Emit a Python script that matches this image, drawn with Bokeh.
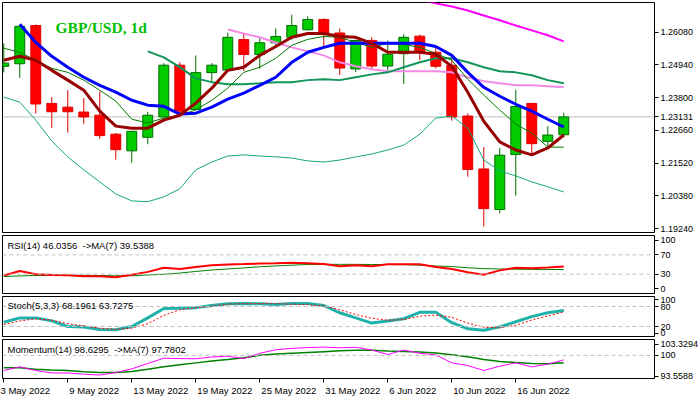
import datetime as dt
from bokeh.plotting import figure
from bokeh.models import Range1d, FixedTicker, Span, Label, PrintfTickFormatter
from bokeh.layouts import column
from bokeh.embed import file_html
from bokeh.resources import INLINE

nan = float("nan")

# ---------------- data ----------------
dates = ["2022-05-03", "2022-05-04", "2022-05-05", "2022-05-06", "2022-05-09", "2022-05-10",
         "2022-05-11", "2022-05-12", "2022-05-13", "2022-05-16", "2022-05-17", "2022-05-18",
         "2022-05-19", "2022-05-20", "2022-05-23", "2022-05-24", "2022-05-25", "2022-05-26",
         "2022-05-27", "2022-05-30", "2022-05-31", "2022-06-01", "2022-06-02", "2022-06-03",
         "2022-06-06", "2022-06-07", "2022-06-08", "2022-06-09", "2022-06-10", "2022-06-13",
         "2022-06-14", "2022-06-15", "2022-06-16", "2022-06-17", "2022-06-20", "2022-06-21"]

opens = [1.2489, 1.2498, 1.2631, 1.2360, 1.2347, 1.2330, 1.2319, 1.2253, 1.2195, 1.2242, 1.2313, 1.2493,
         1.2339, 1.2467, 1.2476, 1.2582, 1.2530, 1.2571, 1.2590, 1.2616, 1.2652, 1.2605, 1.2480, 1.2579,
         1.2490, 1.2533, 1.2594, 1.2538, 1.2493, 1.2316, 1.2132, 1.1991, 1.2182, 1.2360, 1.2228, 1.2251]
highs = [1.2569, 1.2631, 1.2635, 1.2382, 1.2406, 1.2379, 1.2402, 1.2257, 1.2264, 1.2331, 1.2500, 1.2503,
         1.2527, 1.2500, 1.2606, 1.2602, 1.2591, 1.2621, 1.2669, 1.2663, 1.2656, 1.2620, 1.2582, 1.2590,
         1.2579, 1.2601, 1.2600, 1.2556, 1.2516, 1.2325, 1.2208, 1.2205, 1.2408, 1.2362, 1.2281, 1.2327]
lows = [1.2468, 1.2449, 1.2325, 1.2275, 1.2258, 1.2289, 1.2237, 1.2164, 1.2154, 1.2218, 1.2310, 1.2325,
        1.2337, 1.2435, 1.2474, 1.2473, 1.2481, 1.2562, 1.2582, 1.2614, 1.2559, 1.2459, 1.2469, 1.2481,
        1.2475, 1.2428, 1.2510, 1.2481, 1.2300, 1.2105, 1.1932, 1.1978, 1.2039, 1.2177, 1.2207, 1.2242]
closes = [1.2500, 1.2628, 1.2358, 1.2331, 1.2331, 1.2313, 1.2248, 1.2199, 1.2263, 1.2319, 1.2493, 1.2333,
          1.2467, 1.2493, 1.2590, 1.2530, 1.2571, 1.2593, 1.2631, 1.2652, 1.2605, 1.2483, 1.2579, 1.2490,
          1.2531, 1.2590, 1.2537, 1.2489, 1.2313, 1.2130, 1.1994, 1.2180, 1.2349, 1.2220, 1.2250, 1.23131]

ma_blue = [nan, 1.2635, 1.2572, 1.2524, 1.2486, 1.2451, 1.2423, 1.2399, 1.2371, 1.2354, 1.2350, 1.2323,
           1.2326, 1.2347, 1.2375, 1.2396, 1.2423, 1.2451, 1.2503, 1.2538, 1.2555, 1.2569, 1.2569, 1.2569,
           1.2569, 1.2569, 1.2569, 1.2558, 1.2527, 1.2468, 1.2416, 1.2385, 1.2357, 1.2333, 1.2305, 1.2278]
ma_maroon = [1.2510, 1.2524, 1.2510, 1.2475, 1.2441, 1.2406, 1.2333, 1.2281, 1.2274, 1.2274, 1.2302, 1.2319,
             1.2361, 1.2413, 1.2475, 1.2486, 1.2527, 1.2558, 1.2590, 1.2603, 1.2603, 1.2593, 1.2590, 1.2569,
             1.2538, 1.2538, 1.2538, 1.2531, 1.2489, 1.2399, 1.2298, 1.2226, 1.2198, 1.2181, 1.2205, 1.2250]
ma_thin_green = [1.2552, 1.2538, 1.2510, 1.2482, 1.2468, 1.2441, 1.2406, 1.2368, 1.2305, 1.2292, 1.2309, 1.2319,
                 1.2337, 1.2371, 1.2413, 1.2468, 1.2486, 1.2517, 1.2562, 1.2583, 1.2593, 1.2590, 1.2572, 1.2555,
                 1.2569, 1.2565, 1.2555, 1.2534, 1.2510, 1.2444, 1.2389, 1.2337, 1.2288, 1.2257, 1.2208, 1.2208]
ma_sea_green = [nan] * 9 + [1.2541, 1.2520, 1.2486, 1.2447, 1.2434, 1.2427, 1.2427, 1.2430, 1.2434, 1.2434,
                            1.2441, 1.2444, 1.2441, 1.2451, 1.2461, 1.2468, 1.2486, 1.2503, 1.2517, 1.2517,
                            1.2503, 1.2486, 1.2472, 1.2468, 1.2458, 1.2441, 1.2430]
ma_pink = [nan] * 14 + [1.2617, 1.2603, 1.2590, 1.2572, 1.2555, 1.2541, 1.2527, 1.2503, 1.2489, 1.2479, 1.2472,
                        1.2472, 1.2472, 1.2472, 1.2468, 1.2451, 1.2437, 1.2430, 1.2423, 1.2423, 1.2420, 1.2416]
ma_magenta = [nan] * 25 + [1.2739, 1.2721, 1.2708, 1.2697, 1.2683, 1.2666, 1.2649, 1.2631, 1.2614, 1.2597, 1.2576]
band_teal = [1.2382, 1.2364, 1.2302, 1.2229, 1.2174, 1.2129, 1.2087, 1.2045, 1.2021, 1.2018, 1.2035, 1.2063,
             1.2129, 1.2156, 1.2177, 1.2181, 1.2177, 1.2174, 1.2170, 1.2160, 1.2156, 1.2163, 1.2174, 1.2184,
             1.2198, 1.2215, 1.2253, 1.2309, 1.2316, 1.2274, 1.2163, 1.2125, 1.2108, 1.2087, 1.2070, 1.2052]

rsi = [27.1, 36.4, 29.7, 28.0, 27.6, 25.4, 25.4, 23.7, 28.8, 34.7, 43.2, 40.7, 44.9, 48.6, 50.0, 50.8, 52.0, 52.5,
       53.7, 52.5, 50.8, 46.6, 48.3, 46.6, 50.3, 50.3, 50.3, 44.9, 40.7, 33.9, 28.8, 37.8, 43.2, 42.4, 44.0, 46.0356]
rsi_ma = [24.9, 26.3, 27.1, 27.6, 27.6, 27.6, 27.1, 26.6, 26.6, 28.3, 29.7, 32.2, 35.6, 38.5, 40.7, 42.9, 45.3, 47.0,
          48.6, 50.0, 50.3, 50.3, 50.3, 50.0, 50.0, 49.7, 48.6, 46.9, 45.8, 43.2, 41.5, 40.7, 40.2, 39.9, 39.7, 39.5388]
stoch_main = [32.9, 45.8, 45.8, 36.8, 20.1, 18.8, 11.1, 10.5, 20.1, 45.8, 74.0, 74.8, 76.6, 83.0, 88.2, 88.7, 88.2,
              86.1, 88.7, 88.7, 83.0, 61.2, 45.8, 30.3, 36.8, 43.2, 62.5, 63.0, 31.6, 13.1, 9.0, 18.8, 34.2, 49.6,
              61.2, 68.1961]
stoch_signal = [26.0, 36.8, 43.2, 38.8, 28.5, 21.8, 14.9, 11.6, 14.9, 28.5, 53.5, 70.2, 75.8, 80.5, 86.9, 88.7, 88.7,
                88.7, 86.9, 85.6, 81.7, 70.2, 56.0, 44.5, 38.8, 40.6, 50.9, 54.2, 47.6, 30.3, 17.5, 16.2, 23.9, 39.3,
                51.7, 63.7275]
momentum = [95.39, 96.52, 95.39, 94.63, 94.63, 94.26, 94.01, 94.76, 95.89, 97.52, 99.14, 99.02, 98.97, 99.52, 99.77,
            99.02, 100.65, 101.73, 102.15, 102.40, 102.53, 102.33, 102.48, 101.65, 100.27, 101.65, 100.65, 100.15,
            97.72, 96.89, 95.39, 96.71, 97.72, 96.51, 97.32, 98.6295]
momentum_ma = [96.21, 96.21, 95.76, 95.51, 95.39, 95.01, 94.81, 94.81, 95.06, 95.76, 96.56, 97.14, 97.72, 98.27,
               98.72, 99.27, 100.02, 100.40, 100.65, 100.90, 101.15, 101.40, 101.57, 101.57, 101.32, 101.22, 101.07,
               100.77, 100.22, 99.57, 98.77, 98.14, 97.81, 97.51, 97.45, 97.7802]

price_ticks = [1.19240, 1.20380, 1.21520, 1.22660, 1.23800, 1.24940, 1.26080]
price_min, price_max = 1.1911, 1.2711
last_price = 1.23131
rsi_ticks = [0, 30, 70, 100]
rsi_levels = [30, 70]
stoch_ticks = [0, 20, 80, 100]
stoch_levels = [20, 80]
mom_level = 100
mom_min, mom_max = 93.5588, 103.3294
date_tick_idx = list(range(0, 36, 4))
title_text = "GBP/USD, 1d"

# ---------------- layout ----------------
FW = 652
RB = 44
FONT = "Liberation Sans"
NBSP = "\u00a0"
xs = list(range(len(dates)))
xr = Range1d(-0.08, 40.67)

# Arial-metric advance widths (em): pad date labels so the visible text starts at its tick, as in MT4
CHAR_W = {" ": 0.278, "M": 0.833, "a": 0.556, "y": 0.5, "J": 0.5, "u": 0.556, "n": 0.556}

tick_labels = {}
for n, i in enumerate(date_tick_idx):
    d = dt.date.fromisoformat(dates[i])
    txt = f"{d.day} {d.strftime('%b %Y')}"
    if n > 0:
        w = sum(CHAR_W.get(ch, 0.556) for ch in txt)
        txt = NBSP * (round(w / 0.278) + 1) + txt
    tick_labels[i] = txt


def make_fig(fh, y0, y1, ticks, fmt, overrides=None, show_x=False, top=1, bottom=1):
    p = figure(frame_width=FW, frame_height=fh, x_range=xr, y_range=Range1d(y0, y1),
               output_backend="svg", toolbar_location=None, tools="",
               x_axis_location="below" if show_x else None, y_axis_location="right",
               min_border_left=2, min_border_right=RB, min_border_top=top, min_border_bottom=bottom)
    p.grid.visible = False
    p.outline_line_color = "black"
    p.outline_line_width = 1
    p.background_fill_color = "white"
    p.border_fill_color = "white"
    ya = p.yaxis[0]
    ya.ticker = FixedTicker(ticks=ticks)
    ya.formatter = PrintfTickFormatter(format=fmt)
    if overrides:
        ya.major_label_overrides = overrides
    ya.axis_line_color = None
    ya.major_tick_out = 4
    ya.major_tick_in = 0
    ya.minor_tick_out = 0
    ya.minor_tick_in = 0
    ya.major_tick_line_color = "black"
    ya.major_label_standoff = 2
    ya.major_label_text_font = FONT
    ya.major_label_text_font_size = "9px"
    ya.major_label_text_color = "black"
    return p


def caption(p, fh, text, dy):
    p.add_layout(Label(x=5, y=fh - dy, x_units="screen", y_units="screen", text=text,
                       text_font=FONT, text_font_size="9.5px", text_color="black",
                       text_align="left", text_baseline="middle"))


def levels(p, vals):
    for v in vals:
        p.add_layout(Span(location=v, dimension="width", line_color="#C0C0C0",
                          line_dash="4 3", line_width=1))


# ---- main price panel ----
FH_MAIN = 230
pm = make_fig(FH_MAIN, price_min, price_max, sorted(price_ticks + [last_price]), "%.5f", top=2, bottom=2)
pm.add_layout(Span(location=last_price, dimension="width", line_color="#C0C0C0",
                   line_width=1, level="underlay"))

up = [c >= o for o, c in zip(opens, closes)]
body_top = [max(o, c) for o, c in zip(opens, closes)]
body_bot = [min(o, c) for o, c in zip(opens, closes)]
fill_c = ["#00CC00" if u else "#FF0000" for u in up]
edge_c = ["#006E00" if u else "#E00000" for u in up]
pm.segment(x0=xs, y0=lows, x1=xs, y1=highs, line_color=edge_c, line_width=1)
pm.vbar(x=xs, width=0.62, top=body_top, bottom=body_bot, fill_color=fill_c, line_color=edge_c, line_width=1)

pm.line(xs, band_teal, line_color="#16A880", line_width=1)
pm.line(xs, ma_magenta, line_color="#FF00FF", line_width=2)
pm.line(xs, ma_pink, line_color="#F48AE6", line_width=2)
pm.line(xs, ma_sea_green, line_color="#12945A", line_width=2)
pm.line(xs, ma_thin_green, line_color="#007A00", line_width=1)
pm.line(xs, ma_blue, line_color="#0000FF", line_width=3)
pm.line(xs, ma_maroon, line_color="#990000", line_width=3)

pm.add_layout(Label(x=53, y=FH_MAIN - 25, x_units="screen", y_units="screen", text=title_text,
                    text_font="Liberation Serif", text_font_style="bold", text_font_size="15.5px",
                    text_color="#00C000", text_baseline="alphabetic"))

# ---- RSI panel (scale padded so the 0 and 100 labels sit inside, as MT4 draws them) ----
FH_RSI = 58
pr = make_fig(FH_RSI, -10.2, 110.2, rsi_ticks, "%d", top=1, bottom=1)
levels(pr, rsi_levels)
pr.line(xs, rsi_ma, line_color="#008000", line_width=1)
pr.line(xs, rsi, line_color="#FF0000", line_width=2)
caption(pr, FH_RSI, f"RSI(14) {rsi[-1]:.4f}{NBSP} ->MA(7) {rsi_ma[-1]:.4f}", 10)

# ---- Stochastic panel ----
FH_ST = 40
ps = make_fig(FH_ST, -10, 110, stoch_ticks, "%d", top=2, bottom=1)
levels(ps, stoch_levels)
ps.line(xs, stoch_main, line_color="#20B2AA", line_width=3)
ps.line(xs, stoch_signal, line_color="#FF0000", line_width=1, line_dash="2 2")
caption(ps, FH_ST, f"Stoch(5,3,3) {stoch_main[-1]:.4f} {stoch_signal[-1]:.4f}", 9)

# ---- Momentum panel ----
FH_MO = 39
pmo = make_fig(FH_MO, 92.948, 104.856, [mom_min, mom_level, mom_max], "%.4f",
               overrides={mom_level: "100"}, show_x=True, top=2, bottom=0)
levels(pmo, [mom_level])
pmo.line(xs, momentum_ma, line_color="#008000", line_width=1.5)
pmo.line(xs, momentum, line_color="#FF00FF", line_width=1)
caption(pmo, FH_MO, f"Momentum(14) {momentum[-1]:.4f}{NBSP} ->MA(7) {momentum_ma[-1]:.4f}", 9.5)

xa = pmo.xaxis[0]
xa.ticker = FixedTicker(ticks=date_tick_idx)
xa.major_label_overrides = tick_labels
xa.axis_line_color = None
xa.major_tick_out = 4
xa.major_tick_in = 0
xa.minor_tick_out = 0
xa.minor_tick_in = 0
xa.major_tick_line_color = "black"
xa.major_label_standoff = 2
xa.major_label_text_font = FONT
xa.major_label_text_font_size = "9.5px"
xa.major_label_text_color = "black"

layout = column(pm, pr, ps, pmo, spacing=0)
open("out.html", "w").write(file_html(layout, INLINE))
